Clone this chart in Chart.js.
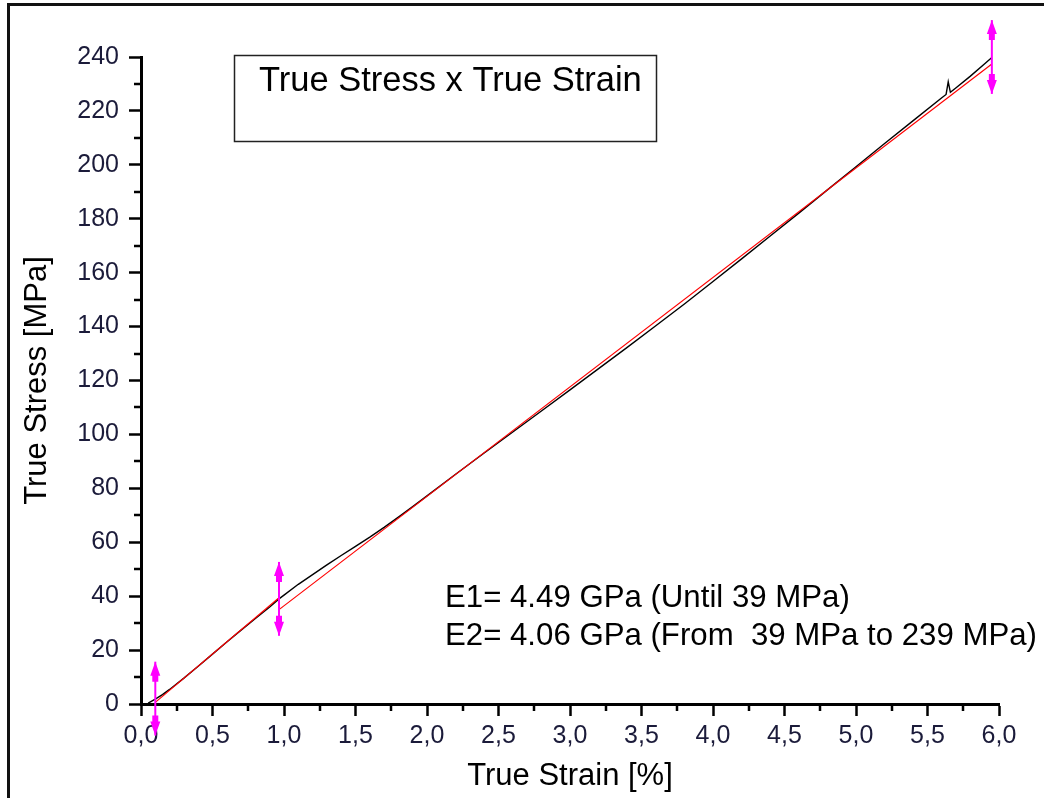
<!DOCTYPE html>
<html lang="en">
<head>
<meta charset="UTF-8">
<title>True Stress x True Strain</title>
<style>
  body { margin: 0; background: #fff; }
  .wrap { position: relative; width: 1044px; height: 798px; overflow: hidden; }
  .frame { position: absolute; left: 7px; top: 3px; width: 1100px; height: 900px;
           border-left: 3px solid #111; border-top: 3px solid #111; }
  canvas { position: absolute; left: 0; top: 0; }
</style>
</head>
<body>
<div class="wrap">
  <div class="frame"></div>
  <canvas id="tensao" width="1044" height="798"></canvas>
</div>

<script src="https://cdn.jsdelivr.net/npm/chart.js"></script>
<script>
// measured curve (true strain in %, true stress in MPa)
const strain = [0.05, 0.1, 0.15, 0.2, 0.3, 0.4, 0.5, 0.6, 0.7, 0.8, 0.9, 0.965, 1.0,
  1.1, 1.2, 1.3, 1.4, 1.5, 1.6, 1.7, 1.8, 1.9, 2.0, 2.2, 2.4, 2.6, 2.8, 3.0,
  3.2, 3.4, 3.6, 3.8, 4.0, 4.2, 4.4, 4.6, 4.8, 5.0, 5.2, 5.4, 5.6, 5.63,
  5.645, 5.66, 5.7, 5.8, 5.9, 5.95];
const stress = [0.3, 1.8, 3.5, 5.4, 9.6, 14.0, 18.5, 23.0, 27.4, 31.7, 36.0, 39.0, 40.4,
  44.4, 48.0, 51.6, 55.1, 58.5, 61.9, 65.5, 69.3, 73.2, 77.2, 85.2, 93.1, 100.9, 108.7, 116.5,
  124.4, 132.3, 140.3, 148.4, 156.7, 165.1, 173.6, 182.1, 190.7, 199.3, 207.9, 216.4, 224.9, 226.1,
  230.8, 226.9, 228.6, 232.9, 237.5, 239.8];

// linear fits: E1 = 4.49 GPa (slope 44.9 MPa/%), E2 = 4.06 GPa (slope 40.6 MPa/%)
const fitE1Strain = [0.1, 0.965];
const fitE1Stress = [0.6, 39.44];
const fitE2Strain = [0.965, 5.95];
const fitE2Stress = [35.0, 237.4];

// range limits picked on the curve
const markStrain = [0.1, 0.965, 5.95];
const markStress = [2, 39, 240];

const fitLabels = ['E1= 4.49 GPa (Until 39 MPa)', 'E2= 4.06 GPa (From  39 MPa to 239 MPa)'];
const legendTitle = 'True Stress x True Strain';

const FONT = "'Liberation Sans', Arial, sans-serif";
const TICK_COLOR = '#1b1b3a';
const MAGENTA = '#ff00ff';
const ARROW = 13.7; // half length of the range arrows, MPa

function pares(xs, ys) {
  return xs.map((x, i) => ({ x: x, y: ys[i] }));
}

// vertical shafts of the range arrows
const marcadores = markStrain.map((x, i) => ({
  data: [{ x: x, y: markStress[i] - ARROW }, { x: x, y: markStress[i] + ARROW }],
  borderColor: MAGENTA,
  borderWidth: 2,
  pointRadius: 0,
  clip: false,
  order: 0
}));

// arrow heads on both ends of each shaft
const pontas = {
  id: 'pontas',
  afterDatasetsDraw(chart) {
    const { ctx, scales: { x, y } } = chart;
    ctx.save();
    ctx.fillStyle = MAGENTA;
    markStrain.forEach((s, i) => {
      const px = x.getPixelForValue(s);
      const top = y.getPixelForValue(markStress[i] + ARROW);
      const bot = y.getPixelForValue(markStress[i] - ARROW);
      [[top, 1], [bot, -1]].forEach(([tip, d]) => {
        ctx.beginPath();
        ctx.moveTo(px, tip);
        ctx.lineTo(px + 5, tip + d * 14);
        ctx.lineTo(px + 3, tip + d * 14);
        ctx.lineTo(px + 3, tip + d * 20);
        ctx.lineTo(px - 3, tip + d * 20);
        ctx.lineTo(px - 3, tip + d * 14);
        ctx.lineTo(px - 5, tip + d * 14);
        ctx.closePath();
        ctx.fill();
      });
    });
    ctx.restore();
  }
};

// minor ticks halfway between the labelled ones
const minorTicks = {
  id: 'minorTicks',
  afterDraw(chart) {
    const { ctx, scales: { x, y } } = chart;
    ctx.save();
    ctx.strokeStyle = '#000';
    ctx.lineWidth = 2.5;
    ctx.beginPath();
    for (let v = 0.25; v < 6; v += 0.5) {
      const px = Math.round(x.getPixelForValue(v));
      ctx.moveTo(px, x.top);
      ctx.lineTo(px, x.top + 7);
    }
    for (let v = 10; v < 240; v += 20) {
      const py = Math.round(y.getPixelForValue(v));
      ctx.moveTo(y.right - 7, py);
      ctx.lineTo(y.right, py);
    }
    ctx.stroke();
    ctx.restore();
  }
};

// legend box and modulus notes
const notas = {
  id: 'notas',
  afterDraw(chart) {
    const ctx = chart.ctx;
    ctx.save();
    ctx.strokeStyle = '#222';
    ctx.lineWidth = 1.5;
    ctx.strokeRect(234.5, 55.5, 422, 86);
    ctx.fillStyle = '#000';
    ctx.textBaseline = 'middle';
    ctx.font = '34.5px ' + FONT;
    ctx.fillText(legendTitle, 259, 81);
    ctx.font = '31.2px ' + FONT;
    ctx.fillText(fitLabels[0], 445, 598);
    ctx.fillText(fitLabels[1], 445, 636);
    ctx.restore();
  }
};

new Chart(document.getElementById('tensao'), {
  type: 'line',
  data: {
    datasets: [
      {
        data: pares(strain, stress),
        borderColor: '#000',
        borderWidth: 1.4,
        pointRadius: 0,
        tension: 0,
        order: 2
      },
      {
        data: pares(fitE1Strain, fitE1Stress),
        borderColor: '#ff0000',
        borderWidth: 1.2,
        pointRadius: 0,
        order: 1
      },
      {
        data: pares(fitE2Strain, fitE2Stress),
        borderColor: '#ff0000',
        borderWidth: 1.2,
        pointRadius: 0,
        order: 1
      },
      ...marcadores
    ]
  },
  options: {
    responsive: false,
    animation: false,
    layout: { padding: { top: 57, right: 45, left: 0, bottom: 0 } },
    plugins: {
      legend: { display: false },
      tooltip: { enabled: false }
    },
    scales: {
      x: {
        type: 'linear',
        min: 0,
        max: 6,
        afterFit(scale) { scale.height = 94; },
        ticks: {
          stepSize: 0.5,
          color: TICK_COLOR,
          font: { family: FONT, size: 25 },
          padding: 5,
          maxRotation: 0,
          callback: v => v.toFixed(1).replace('.', ',')
        },
        grid: { drawOnChartArea: false, tickLength: 12, tickWidth: 2.5, tickColor: '#000' },
        border: { color: '#000', width: 3 },
        title: {
          display: true,
          text: 'True Strain [%]',
          color: '#000',
          font: { family: FONT, size: 31, lineHeight: 1.2 },
          padding: { top: 0, bottom: 3 }
        }
      },
      y: {
        type: 'linear',
        min: 0,
        max: 240,
        afterFit(scale) { scale.width = 141; },
        ticks: {
          stepSize: 20,
          color: TICK_COLOR,
          font: { family: FONT, size: 25 },
          padding: 10
        },
        grid: { drawOnChartArea: false, tickLength: 12, tickWidth: 2.5, tickColor: '#000' },
        border: { color: '#000', width: 3 },
        title: {
          display: true,
          text: 'True Stress [MPa]',
          color: '#000',
          font: { family: FONT, size: 31, lineHeight: 1.2 },
          padding: { top: 19, bottom: 0 }
        }
      }
    }
  },
  plugins: [minorTicks, pontas, notas]
});
</script>
</body>
</html>
